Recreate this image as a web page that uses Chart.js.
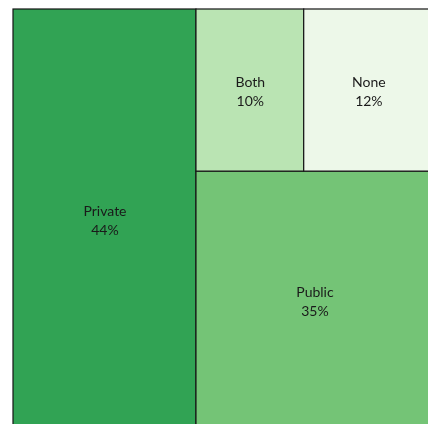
<!DOCTYPE html>
<html>
<head>
<meta charset="utf-8">
<script src="https://cdn.jsdelivr.net/npm/chart.js@4/dist/chart.umd.min.js"></script>
<style>
  html, body { margin: 0; padding: 0; background: #fff; overflow: hidden; }
  #wrap { width: 440px; height: 440px; }
</style>
</head>
<body>
<div id="wrap"><canvas id="treeChart" width="440" height="440"></canvas></div>
<script>
// Insurance type shares (percent)
const categories = ['Private', 'Public', 'Both', 'None'];
const shares = [44, 35, 10, 12];
const cellColors = ['#31a354', '#74c476', '#bae4b3', '#edf8e9'];

const total = shares.reduce((a, b) => a + b, 0);

// Strip layout: each cell cuts a full strip off the remaining area,
// across the width when the area is wide, from the bottom when it is tall
function stripLayout(values, x0, y0, x1, y1) {
    const rects = [];
    let rest = values.reduce((a, b) => a + b, 0);
    values.forEach((v, i) => {
        const w = x1 - x0, h = y1 - y0;
        if (i === values.length - 1) {
            rects.push({ x0, y0, x1, y1 });
        } else if (w >= h) {
            const cw = w * v / rest;
            rects.push({ x0, y0, x1: x0 + cw, y1 });
            x0 += cw;
        } else {
            const ch = h * v / rest;
            rects.push({ x0, y0, x1, y1: y0 + ch });
            y0 += ch;
        }
        rest -= v;
    });
    return rects;
}

const cells = stripLayout(shares, 0, 0, total, total);

const treemapPlugin = {
    id: 'treemapCells',
    beforeDatasetsDraw(chart) {
        const { ctx, scales: { x, y } } = chart;
        ctx.save();
        cells.forEach((c, i) => {
            const left = x.getPixelForValue(c.x0);
            const right = x.getPixelForValue(c.x1);
            const top = y.getPixelForValue(c.y1);
            const bottom = y.getPixelForValue(c.y0);
            ctx.fillStyle = cellColors[i];
            ctx.fillRect(left, top, right - left, bottom - top);
            ctx.strokeStyle = '#151515';
            ctx.lineWidth = 1.2;
            ctx.strokeRect(left, top, right - left, bottom - top);
        });
        ctx.restore();
    },
    afterDatasetsDraw(chart) {
        const { ctx, scales: { x, y } } = chart;
        ctx.save();
        ctx.fillStyle = '#1a1a1a';
        ctx.font = '14px Lato, "Open Sans", sans-serif';
        ctx.textAlign = 'center';
        ctx.textBaseline = 'middle';
        cells.forEach((c, i) => {
            const cx = x.getPixelForValue((c.x0 + c.x1) / 2) + 0.5;
            const cy = y.getPixelForValue((c.y0 + c.y1) / 2) + 1.5;
            ctx.fillText(categories[i], cx, cy - 9.5);
            ctx.fillText(shares[i] + '%', cx, cy + 9.5);
        });
        ctx.restore();
    }
};

new Chart(document.getElementById('treeChart'), {
    type: 'scatter',
    data: {
        datasets: [{
            label: 'cells',
            data: cells.map(c => ({ x: (c.x0 + c.x1) / 2, y: (c.y0 + c.y1) / 2 })),
            pointRadius: 0,
            pointHoverRadius: 0
        }]
    },
    options: {
        responsive: false,
        animation: false,
        layout: { padding: { left: 13, top: 9, right: 7, bottom: 11 } },
        plugins: { legend: { display: false }, tooltip: { enabled: false } },
        scales: {
            x: { display: false, min: 0, max: total },
            y: { display: false, min: 0, max: total }
        }
    },
    plugins: [treemapPlugin]
});
</script>
</body>
</html>
